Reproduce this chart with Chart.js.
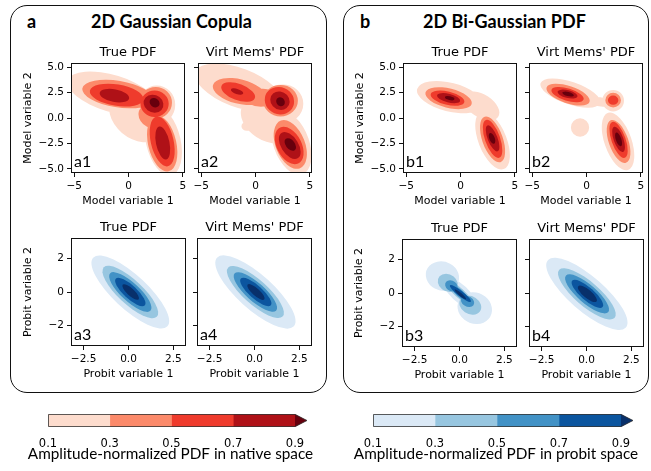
<!DOCTYPE html>
<html>
<head>
<meta charset="utf-8">
<script src="https://cdn.jsdelivr.net/npm/chart.js@4.4.1/dist/chart.umd.min.js"></script>
<style>
  body { margin: 0; width: 651px; height: 471px; background: #fff; position: relative; overflow: hidden; font-family: Lato, sans-serif; }
  canvas { position: absolute; }
  .frame { position: absolute; box-sizing: border-box; border: 1.5px solid #111; border-radius: 17px; }
  .head { position: absolute; font-weight: bold; font-size: 18px; line-height: 18px; color: #000; white-space: nowrap; }
</style>
</head>
<body>
<div class="frame" style="left:10px;top:5px;width:317px;height:388px"></div>
<div class="frame" style="left:343px;top:5px;width:306px;height:388px"></div>
<div class="head" style="left:27px;top:12px">a</div>
<div class="head" style="left:91px;top:12px;width:160px;text-align:center">2D Gaussian Copula</div>
<div class="head" style="left:360px;top:12px">b</div>
<div class="head" style="left:423px;top:12px;width:160px;text-align:center">2D Bi-Gaussian PDF</div>
<script>
// contour bands: 0.1-0.3, 0.3-0.5, 0.5-0.7, 0.7-0.9, >0.9
const levelEdges = [0.1, 0.3, 0.5, 0.7, 0.9];
const redShades = ['#fddccd', '#fc8a6a', '#ef3b2c', '#af1117', '#67000d'];
const blueShades = ['#dbe9f6', '#97c6e0', '#4292c6', '#0b559f', '#08306b'];

const modelRangeX = [-5.3, 5.2];
const modelRangeY = [-5.4, 5.4];
const probitRangeX = [-3.2, 3.2];
const probitRangeY = [-3.2, 3.2];

const modelTicks = [-5, 0, 5];
const modelTickText = ['−5', '0', '5'];
const modelYTicks = [-5, -2.5, 0, 2.5, 5];
const modelYTickText = ['−5.0', '−2.5', '0.0', '2.5', '5.0'];
const probitTicks = [-2.5, 0, 2.5];
const probitTickText = ['−2.5', '0.0', '2.5'];
const probitYTicks = [-2, 0, 2];
const probitYTickText = ['−2', '0', '2'];

// each band: list of ellipses [cx, cy, semi-axis a, semi-axis b, tilt of a (deg)]
const a1Bands = [
  [[-1.5, 2.4, 4.3, 1.8, -18], [2.6, 1.3, 1.7, 1.9, 0], [3.2, -2.3, 3.4, 1.6, -78], [0.8, 0.1, 2.9, 2.1, -42]],
  [[-1.0, 2.35, 3.3, 1.3, -10], [2.5, 1.5, 1.5, 1.55, 0], [3.1, -2.5, 2.8, 1.3, -78], [1.8, 0.1, 1.1, 0.8, -60]],
  [[-1.1, 2.25, 2.5, 1.05, -10], [2.4, 1.4, 1.3, 1.3, 0], [3.1, -2.3, 2.5, 1.05, -78]],
  [[-1.3, 2.2, 1.38, 0.62, -12], [2.3, 1.4, 0.95, 0.85, -40], [3.15, -2.45, 1.65, 0.62, -79]],
  [[2.4, 1.5, 0.5, 0.42, -45]]
];
const a2Bands = [
  [[-1.6, 3.0, 4.2, 1.9, -22], [2.5, 1.4, 1.9, 1.9, 0], [3.3, -2.5, 3.2, 1.65, -72], [0.9, -0.3, 2.6, 1.75, -42], [-0.8, -0.8, 0.5, 0.45, 0]],
  [[-1.5, 2.6, 2.5, 1.2, -15], [0.5, 2.0, 1.5, 0.9, 0], [2.3, 1.7, 1.6, 1.55, 0], [3.2, -2.6, 2.5, 1.35, -70]],
  [[-1.6, 2.55, 1.65, 0.8, -22], [2.2, 1.7, 1.4, 1.3, -45], [3.1, -2.7, 1.95, 1.15, -65]],
  [[-1.7, 2.6, 0.6, 0.25, -20], [2.25, 1.7, 0.95, 0.85, -50], [3.15, -2.7, 1.45, 0.8, -60]],
  [[2.3, 1.6, 0.45, 0.38, -60], [3.2, -2.6, 0.7, 0.42, -55]]
];
const b1Bands = [
  [[-1.0, 2.05, 3.1, 1.4, -15], [1.9, 1.2, 1.9, 1.1, -35], [2.95, -2.2, 3.0, 1.3, -70]],
  [[-1.1, 1.95, 2.2, 0.95, -15], [2.95, -2.1, 2.35, 0.95, -72]],
  [[-1.2, 1.95, 1.6, 0.65, -15], [2.95, -2.05, 1.95, 0.7, -72]],
  [[-1.1, 1.95, 1.1, 0.42, -15], [2.95, -2.0, 1.35, 0.45, -70]],
  [[-1.0, 1.95, 0.45, 0.18, -15], [2.9, -2.0, 0.55, 0.25, -70]]
];
const b2Bands = [
  [[-1.5, 2.45, 2.9, 1.1, -20], [1.2, 1.6, 1.6, 0.45, -8], [2.45, 1.7, 1.0, 1.05, 0], [2.9, -2.3, 2.95, 1.25, -72], [-0.6, -0.93, 0.84, 0.9, 0]],
  [[-1.7, 2.3, 2.1, 0.85, -20], [2.45, 1.75, 0.72, 0.72, 0], [2.95, -2.3, 2.2, 0.9, -72]],
  [[-1.75, 2.3, 1.55, 0.6, -18], [2.45, 1.75, 0.48, 0.45, 0], [2.95, -2.15, 1.85, 0.65, -72]],
  [[-1.75, 2.35, 0.95, 0.38, -15], [2.95, -2.1, 1.3, 0.45, -72]],
  [[-1.7, 2.35, 0.55, 0.2, -15], [2.95, -2.1, 0.7, 0.25, -72]]
];
const a3Bands = [
  [[0.1, 0.0, 2.9, 0.98, -45]],
  [[0.1, 0.0, 2.08, 0.7, -45]],
  [[0.1, 0.0, 1.58, 0.53, -45]],
  [[0.1, 0.0, 1.13, 0.38, -45]],
  [[0.12, 0.0, 0.62, 0.21, -45]]
];
const a4Bands = [
  [[0.05, 0.0, 2.95, 1.0, -44]],
  [[0.05, 0.0, 2.1, 0.7, -44]],
  [[0.05, 0.0, 1.6, 0.53, -44]],
  [[0.07, 0.0, 1.15, 0.38, -44]],
  [[0.08, 0.0, 0.64, 0.21, -44]]
];
const b3Bands = [
  [[-0.95, 1.0, 0.95, 0.85, -30], [0.85, -0.9, 1.0, 0.9, -40], [0.0, 0.0, 1.2, 0.5, -45]],
  [[-0.65, 0.6, 0.6, 0.5, -40], [0.6, -0.72, 0.65, 0.52, -35], [0.0, 0.0, 1.0, 0.28, -45]],
  [[-0.45, 0.42, 0.38, 0.3, -40], [0.45, -0.5, 0.4, 0.3, -35], [0.0, 0.0, 0.75, 0.2, -45]],
  [[0.05, -0.03, 0.75, 0.16, -40]],
  [[0.05, -0.08, 0.42, 0.09, -42]]
];
const b4Bands = [
  [[0.02, -0.05, 2.95, 1.0, -43]],
  [[0.02, -0.05, 2.1, 0.7, -43]],
  [[0.03, -0.05, 1.6, 0.53, -43]],
  [[0.05, -0.05, 1.15, 0.38, -43]],
  [[0.05, -0.05, 0.68, 0.24, -42]]
];

Chart.defaults.font.family = "'DejaVu Sans'";
Chart.defaults.color = '#000';

// filled contour bands drawn as unions of ellipses in data space
const contourPlugin = {
  id: 'contours',
  beforeDatasetsDraw(chart, args, opts) {
    const { ctx, chartArea: ca, scales: { x, y } } = chart;
    ctx.save();
    ctx.beginPath();
    ctx.rect(ca.left, ca.top, ca.width, ca.height);
    ctx.clip();
    opts.bands.forEach((shapes, i) => {
      ctx.beginPath();
      shapes.forEach(([cx, cy, a, b, deg]) => {
        const t = deg * Math.PI / 180;
        const px = x.getPixelForValue(cx), py = y.getPixelForValue(cy);
        const ux = x.getPixelForValue(cx + a * Math.cos(t)) - px;
        const uy = y.getPixelForValue(cy + a * Math.sin(t)) - py;
        const vx = x.getPixelForValue(cx - b * Math.sin(t)) - px;
        const vy = y.getPixelForValue(cy + b * Math.cos(t)) - py;
        ctx.save();
        ctx.transform(ux, uy, vx, vy, px, py);
        ctx.moveTo(1, 0);
        ctx.arc(0, 0, 1, 0, 2 * Math.PI);
        ctx.restore();
      });
      ctx.fillStyle = opts.shades[i];
      ctx.fill();
    });
    ctx.restore();
  },
  afterDraw(chart, args, opts) {
    const { ctx, chartArea: ca } = chart;
    ctx.save();
    ctx.strokeStyle = '#111';
    ctx.lineWidth = 1;
    ctx.strokeRect(ca.left + 0.5, ca.top + 0.5, ca.width - 1, ca.height - 1);
    ctx.fillStyle = '#000';
    ctx.font = "13px 'DejaVu Sans'";
    ctx.textAlign = 'center';
    ctx.textBaseline = 'middle';
    ctx.fillText(opts.title, (ca.left + ca.right) / 2, ca.top - 10);
    ctx.font = '16px Lato';
    ctx.textAlign = 'left';
    ctx.textBaseline = 'alphabetic';
    ctx.fillText(opts.tag, ca.left + 3, ca.bottom - 6);
    ctx.restore();
  }
};

function makePlot(p) {
  const model = p.space === 'model';
  const [L, T, W, H] = p.box;
  const canvas = document.createElement('canvas');
  canvas.width = W + 58;
  canvas.height = H + 60;
  canvas.style.left = (L - 52) + 'px';
  canvas.style.top = (T - 22) + 'px';
  document.body.appendChild(canvas);

  const xr = model ? modelRangeX : probitRangeX;
  const yr = model ? modelRangeY : probitRangeY;
  const xt = model ? modelTicks : probitTicks;
  const xtText = model ? modelTickText : probitTickText;
  const yt = model ? modelYTicks : probitYTicks;
  const ytText = model ? modelYTickText : probitYTickText;
  const name = model ? 'Model variable ' : 'Probit variable ';

  new Chart(canvas, {
    type: 'scatter',
    data: { datasets: [{ data: [] }] },
    options: {
      responsive: false,
      animation: false,
      layout: { padding: { left: 0, right: 6, top: 22, bottom: 0 } },
      plugins: {
        legend: { display: false },
        tooltip: { enabled: false },
        contours: { bands: p.bands, shades: model ? redShades : blueShades, title: p.title, tag: p.tag }
      },
      scales: {
        x: {
          type: 'linear', min: xr[0], max: xr[1],
          afterBuildTicks: s => { s.ticks = xt.map(v => ({ value: v })); },
          afterFit: s => { s.height = 38; },
          ticks: { callback: (v, i) => xtText[i], font: { size: 10.5 }, padding: 3, maxRotation: 0, autoSkip: false },
          grid: { drawOnChartArea: false, tickLength: 4, color: '#111' },
          border: { display: false },
          title: { display: true, text: name + '1', font: { size: 11 }, padding: { top: 2, bottom: 3 } }
        },
        y: {
          type: 'linear', min: yr[0], max: yr[1],
          afterBuildTicks: s => { s.ticks = yt.map(v => ({ value: v })); },
          afterFit: s => { s.width = 52; },
          ticks: { callback: (v, i) => p.yLabels ? ytText[i] : '', font: { size: 10.5 }, padding: 3, autoSkip: false },
          grid: { drawOnChartArea: false, tickLength: 4, color: '#111' },
          border: { display: false },
          title: { display: p.yLabels, text: name + '2', font: { size: 11 }, padding: { top: 3, bottom: 2 } }
        }
      }
    },
    plugins: [contourPlugin]
  });
}

// colorbar: outline, the extend-max triangle and the caption
const colorbarPlugin = {
  id: 'cbar',
  afterDatasetsDraw(chart, args, opts) {
    const { ctx, chartArea: ca } = chart;
    const mid = (ca.top + ca.bottom) / 2;
    ctx.save();
    ctx.beginPath();
    ctx.moveTo(ca.right, ca.top);
    ctx.lineTo(ca.right + 12, mid);
    ctx.lineTo(ca.right, ca.bottom);
    ctx.closePath();
    ctx.fillStyle = opts.extend;
    ctx.fill();
    ctx.beginPath();
    ctx.moveTo(ca.left + 0.5, ca.top + 0.5);
    ctx.lineTo(ca.right, ca.top + 0.5);
    ctx.lineTo(ca.right + 12, mid);
    ctx.lineTo(ca.right, ca.bottom - 0.5);
    ctx.lineTo(ca.left + 0.5, ca.bottom - 0.5);
    ctx.closePath();
    ctx.strokeStyle = '#333';
    ctx.lineWidth = 0.8;
    ctx.stroke();
    ctx.fillStyle = '#000';
    ctx.font = '15.3px Lato';
    ctx.textAlign = 'center';
    ctx.textBaseline = 'alphabetic';
    ctx.fillText(opts.caption, (ca.left + ca.right) / 2 - 1, ca.bottom + 32);
    ctx.restore();
  }
};

function makeColorbar(box, shades, label) {
  const [L, T, W, H] = box;
  const canvas = document.createElement('canvas');
  canvas.width = W + 90;
  canvas.height = H + 47;
  canvas.style.left = (L - 45) + 'px';
  canvas.style.top = (T - 5) + 'px';
  document.body.appendChild(canvas);

  new Chart(canvas, {
    type: 'bar',
    data: {
      labels: [''],
      datasets: shades.slice(0, 4).map((c, i) => ({
        data: [[levelEdges[i], levelEdges[i + 1]]],
        backgroundColor: c, borderWidth: 0, grouped: false,
        barPercentage: 1, categoryPercentage: 1
      }))
    },
    options: {
      indexAxis: 'y',
      responsive: false,
      animation: false,
      layout: { padding: { left: 45, right: 45, top: 5, bottom: 0 } },
      plugins: { legend: { display: false }, tooltip: { enabled: false }, cbar: { extend: shades[4], caption: label } },
      scales: {
        y: { display: false },
        x: {
          type: 'linear', min: levelEdges[0], max: levelEdges[4],
          afterBuildTicks: s => { s.ticks = levelEdges.map(v => ({ value: v })); },
          afterFit: s => { s.height = 42; },
          ticks: { callback: v => v.toFixed(1), font: { size: 11.5 }, padding: 10, maxRotation: 0, autoSkip: false },
          grid: { display: false, drawTicks: false },
          border: { display: false }
        }
      }
    },
    plugins: [colorbarPlugin]
  });
}

[
  { tag: 'a1', title: 'True PDF', box: [71, 63, 114, 110], space: 'model', bands: a1Bands, yLabels: true },
  { tag: 'a2', title: "Virt Mems' PDF", box: [198, 63, 114, 110], space: 'model', bands: a2Bands, yLabels: false },
  { tag: 'b1', title: 'True PDF', box: [403, 63, 114, 110], space: 'model', bands: b1Bands, yLabels: true },
  { tag: 'b2', title: "Virt Mems' PDF", box: [529, 63, 114, 110], space: 'model', bands: b2Bands, yLabels: false },
  { tag: 'a3', title: 'True PDF', box: [71, 238, 115, 108], space: 'probit', bands: a3Bands, yLabels: true },
  { tag: 'a4', title: "Virt Mems' PDF", box: [197, 238, 115, 108], space: 'probit', bands: a4Bands, yLabels: false },
  { tag: 'b3', title: 'True PDF', box: [402, 239, 115, 108], space: 'probit', bands: b3Bands, yLabels: true },
  { tag: 'b4', title: "Virt Mems' PDF", box: [529, 239, 115, 108], space: 'probit', bands: b4Bands, yLabels: false }
].forEach(makePlot);

makeColorbar([48, 414, 247, 13], redShades, 'Amplitude-normalized PDF in native space');
makeColorbar([373, 414, 248, 13], blueShades, 'Amplitude-normalized PDF in probit space');
</script>
</body>
</html>
